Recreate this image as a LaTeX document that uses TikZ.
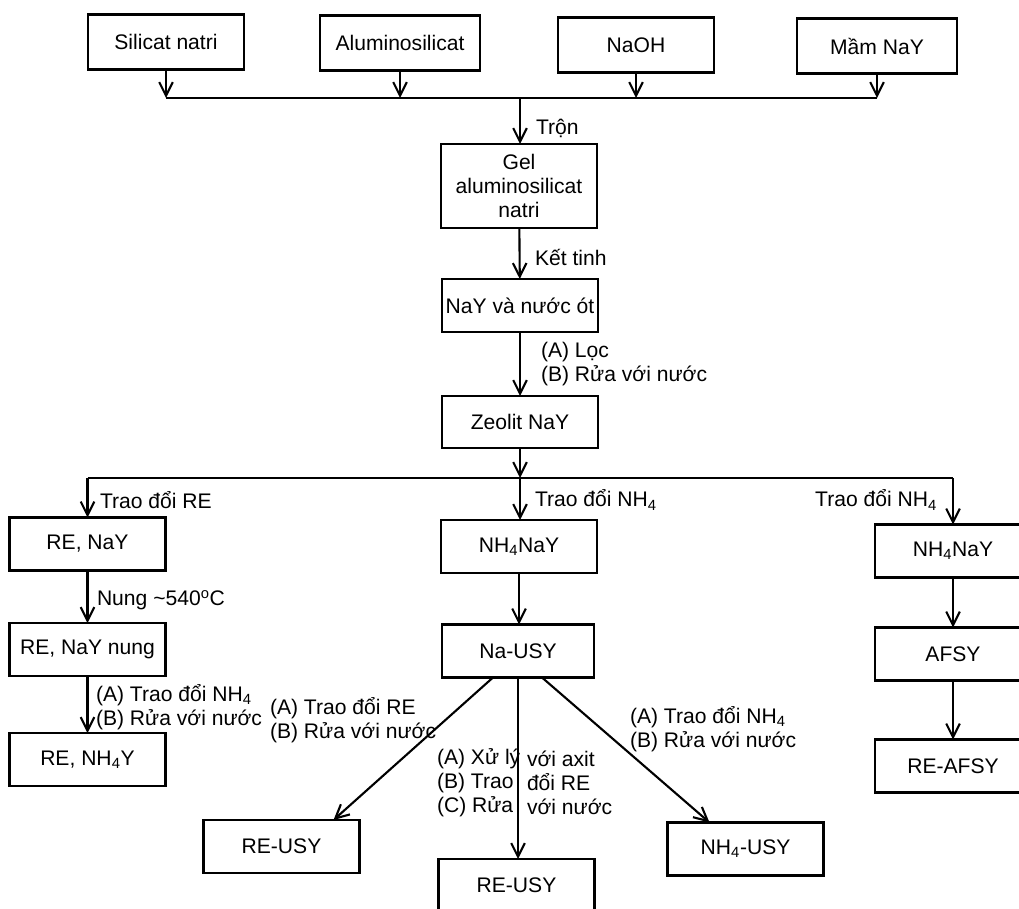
\documentclass[tikz,border=0pt]{standalone}
\usepackage{fontspec}
\setmainfont{Liberation Sans}
\usetikzlibrary{arrows.meta}

\begin{document}
\begin{tikzpicture}[x=0.025cm, y=-0.025cm, line width=1.5pt,
  every node/.style={font=\fontsize{15}{17}\selectfont, outer sep=0pt},
  box/.style={draw, minimum width=3.9cm, minimum height=1.325cm, inner sep=2pt, align=center},
  lbl/.style={inner sep=0pt, align=left},
  arr/.style={-{Straight Barb[length=3.4mm,width=3.4mm]}}]
\clip (0,0) rectangle (1019,908);

\node[box, minimum height=1.375cm] (sil) at (166,42) {Silicat natri};
\node[box, minimum height=1.375cm, minimum width=4cm] (alu) at (400,43) {Aluminosilicat};
\node[box, minimum height=1.375cm] (naoh) at (636,45) {NaOH};
\node[box, minimum height=1.375cm, minimum width=4cm] (mam) at (877,46) {Mầm NaY};
\coordinate (mix) at (520,98);
\draw (sil |- mix) -- (mam |- mix);
\draw[arr] (sil) -- (sil |- mix);
\draw[arr] (alu) -- (alu |- mix);
\draw[arr] (naoh) -- (naoh |- mix);
\draw[arr] (mam) -- (mam |- mix);

\node[box, minimum height=2.1cm] (gel) at (519,186) {Gel\\aluminosilicat\\natri};
\draw[arr] (mix) -- (mix |- gel.north);
\node[lbl, anchor=west] (tron) at (536,128) {Trộn};
\node[box] (nay) at (520,305.5) {NaY và nước ót};
\draw[arr] (gel) -- (nay);
\node[lbl, anchor=west] (kettinh) at (535,257) {Kết tinh};
\node[box, minimum height=1.3cm] (zeo) at (520,422) {Zeolit NaY};
\draw[arr] (nay) -- (zeo);
\node[lbl, anchor=west] (loc) at (541,364) {(A) Lọc\\(B) Rửa với nước};

\coordinate (split) at (520,478);
\draw[arr] (zeo) -- (split);
\node[box] (reny) at (87.5,544) {RE, NaY};
\node[box] (nhna) at (519,546.5) {NH\textsubscript{4}NaY};
\node[box] (nhnb) at (953,551) {NH\textsubscript{4}NaY};
\draw (reny |- split) -- (nhnb |- split);
\draw[arr] (reny |- split) -- (reny);
\draw[arr] (split) -- (split |- nhna.north);
\draw[arr] (nhnb |- split) -- (nhnb);
\node[lbl, anchor=west] (tdre) at (100,500) {Trao đổi RE};
\node[lbl, anchor=west] (tdnha) at (535,500) {Trao đổi NH\textsubscript{4}};
\node[lbl, anchor=east] (tdnhb) at (937,500) {Trao đổi NH\textsubscript{4}};

\node[box] (renyn) at (87.5,649.5) {RE, NaY nung};
\draw[arr] (reny) -- (renyn);
\node[lbl, anchor=west] (nung) at (97,600) {Nung \textasciitilde540\textsuperscript{o}C};
\node[box] (renh) at (87.5,759.5) {RE, NH\textsubscript{4}Y};
\draw[arr] (renyn) -- (renh);
\node[lbl, anchor=west] (tdnhc) at (96,707) {(A) Trao đổi NH\textsubscript{4}\\(B) Rửa với nước};

\node[box, minimum width=3.8cm] (nausy) at (518,651) {Na-USY};
\draw[arr] (nhna) -- (nhna |- nausy.north);
\node[box] (afsy) at (953,654) {AFSY};
\node[box] (reafsy) at (953,766) {RE-AFSY};
\draw[arr] (nhnb) -- (afsy);
\draw[arr] (afsy) -- (reafsy);

\node[box] (reusya) at (281.5,846.5) {RE-USY};
\node[box] (reusyb) at (516.5,885.5) {RE-USY};
\node[box] (nhusy) at (745.5,849) {NH\textsubscript{4}-USY};
\draw[arr] ([xshift=-0.625cm]nausy.south) -- ([xshift=1.3cm]reusya.north);
\draw[arr] (nausy) -- (nausy |- reusyb.north);
\draw[arr] ([xshift=0.6cm]nausy.south) -- ([xshift=-0.9cm]nhusy.north);
\node[lbl, anchor=west] (tdrea) at (270,720) {(A) Trao đổi RE\\(B) Rửa với nước};
\node[lbl, anchor=west] (xuly) at (437,783) {(A) Xử lý\\(B) Trao\\(C) Rửa};
\node[lbl, anchor=west] (voiaxit) at (527,783) {với axit\\đổi RE\\với nước};
\node[lbl, anchor=west] (tdnhd) at (630,729) {(A) Trao đổi NH\textsubscript{4}\\(B) Rửa với nước};
\end{tikzpicture}
\end{document}
